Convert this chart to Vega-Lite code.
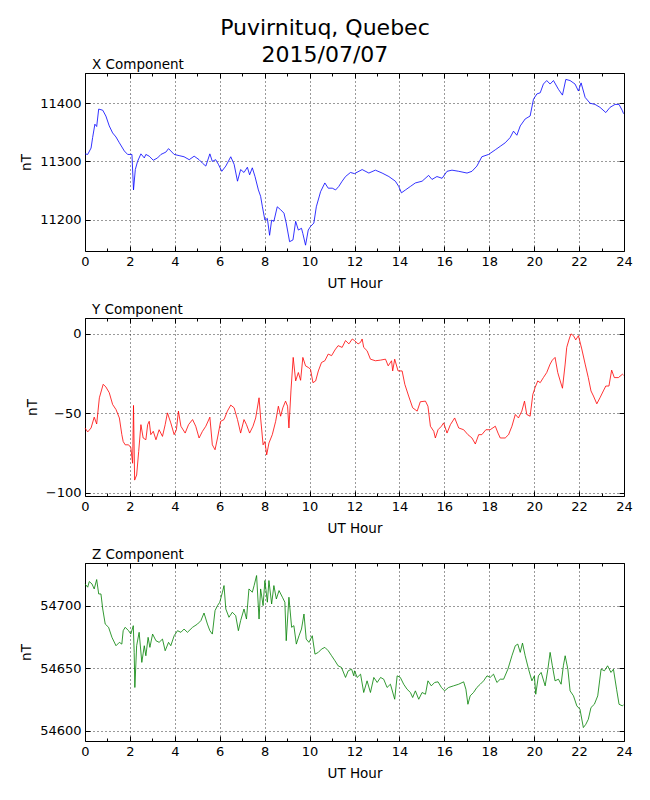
{
  "$schema": "https://vega.github.io/schema/vega-lite/v6.json",
  "padding": {"left": 19, "top": 16, "right": 20, "bottom": 5},
  "title": {"text": ["Puvirnituq, Quebec", "2015/07/07"], "fontSize": 22, "lineHeight": 27, "anchor": "middle", "offset": -9, "dx": -1, "font": "DejaVu Sans", "fontWeight": "normal", "color": "black", "frame": "bounds"},
  "spacing": 12,
  "datasets": {
    "xc": [
      {"h":0,"v":11313},{"h":0.12,"v":11312},{"h":0.27,"v":11323},{"h":0.34,"v":11341},{"h":0.44,"v":11364},{"h":0.52,"v":11360},{"h":0.61,"v":11390},{"h":0.79,"v":11388},{"h":0.93,"v":11378},{"h":1.08,"v":11361},{"h":1.23,"v":11349},{"h":1.38,"v":11342},{"h":1.53,"v":11332},{"h":1.75,"v":11318},{"h":1.9,"v":11312},{"h":2.09,"v":11312},{"h":2.16,"v":11251},{"h":2.24,"v":11286},{"h":2.34,"v":11300},{"h":2.49,"v":11313},{"h":2.64,"v":11306},{"h":2.71,"v":11312},{"h":2.86,"v":11309},{"h":3.04,"v":11302},{"h":3.23,"v":11306},{"h":3.38,"v":11312},{"h":3.6,"v":11316},{"h":3.72,"v":11322},{"h":3.82,"v":11318},{"h":3.97,"v":11312},{"h":4.19,"v":11310},{"h":4.41,"v":11308},{"h":4.64,"v":11303},{"h":4.86,"v":11309},{"h":5.08,"v":11303},{"h":5.23,"v":11297},{"h":5.38,"v":11292},{"h":5.56,"v":11313},{"h":5.67,"v":11300},{"h":5.82,"v":11303},{"h":5.94,"v":11295},{"h":6.09,"v":11283},{"h":6.27,"v":11292},{"h":6.49,"v":11308},{"h":6.64,"v":11295},{"h":6.79,"v":11266},{"h":6.93,"v":11286},{"h":7.08,"v":11281},{"h":7.23,"v":11290},{"h":7.33,"v":11277},{"h":7.45,"v":11289},{"h":7.57,"v":11274},{"h":7.72,"v":11251},{"h":7.82,"v":11240},{"h":7.9,"v":11222},{"h":8.01,"v":11199},{"h":8.12,"v":11202},{"h":8.22,"v":11173},{"h":8.31,"v":11199},{"h":8.41,"v":11197},{"h":8.56,"v":11222},{"h":8.71,"v":11217},{"h":8.86,"v":11211},{"h":8.96,"v":11194},{"h":9.11,"v":11162},{"h":9.26,"v":11165},{"h":9.38,"v":11197},{"h":9.5,"v":11182},{"h":9.64,"v":11185},{"h":9.7,"v":11176},{"h":9.82,"v":11156},{"h":9.94,"v":11182},{"h":10.04,"v":11188},{"h":10.19,"v":11194},{"h":10.3,"v":11222},{"h":10.49,"v":11248},{"h":10.68,"v":11263},{"h":10.83,"v":11254},{"h":11.01,"v":11254},{"h":11.16,"v":11251},{"h":11.3,"v":11257},{"h":11.45,"v":11266},{"h":11.6,"v":11274},{"h":11.82,"v":11281},{"h":12.0,"v":11279},{"h":12.34,"v":11286},{"h":12.64,"v":11280},{"h":12.93,"v":11285},{"h":13.23,"v":11280},{"h":13.53,"v":11274},{"h":13.82,"v":11266},{"h":13.97,"v":11257},{"h":14.09,"v":11246},{"h":14.27,"v":11251},{"h":14.49,"v":11257},{"h":14.71,"v":11263},{"h":15.01,"v":11266},{"h":15.3,"v":11276},{"h":15.45,"v":11269},{"h":15.67,"v":11274},{"h":15.9,"v":11271},{"h":16.12,"v":11283},{"h":16.34,"v":11285},{"h":16.64,"v":11283},{"h":17.01,"v":11280},{"h":17.23,"v":11283},{"h":17.45,"v":11292},{"h":17.67,"v":11308},{"h":17.97,"v":11312},{"h":18.27,"v":11320},{"h":18.49,"v":11326},{"h":18.71,"v":11332},{"h":18.93,"v":11341},{"h":19.08,"v":11352},{"h":19.23,"v":11345},{"h":19.38,"v":11361},{"h":19.6,"v":11373},{"h":19.82,"v":11378},{"h":19.97,"v":11407},{"h":20.12,"v":11416},{"h":20.27,"v":11418},{"h":20.41,"v":11433},{"h":20.56,"v":11439},{"h":20.71,"v":11433},{"h":20.86,"v":11439},{"h":21.08,"v":11424},{"h":21.26,"v":11414},{"h":21.41,"v":11441},{"h":21.6,"v":11439},{"h":21.82,"v":11433},{"h":21.97,"v":11421},{"h":22.09,"v":11435},{"h":22.27,"v":11410},{"h":22.49,"v":11400},{"h":22.71,"v":11398},{"h":22.93,"v":11393},{"h":23.19,"v":11384},{"h":23.38,"v":11393},{"h":23.6,"v":11398},{"h":23.78,"v":11398},{"h":23.93,"v":11387},{"h":23.98,"v":11382}
    ],
    "yc": [
      {"h":0,"v":-59.2},{"h":0.12,"v":-61.7},{"h":0.27,"v":-59.2},{"h":0.41,"v":-52.4},{"h":0.52,"v":-56.7},{"h":0.64,"v":-40.2},{"h":0.81,"v":-31.7},{"h":0.93,"v":-33.4},{"h":1.08,"v":-37},{"h":1.23,"v":-44.4},{"h":1.38,"v":-47.6},{"h":1.53,"v":-52.9},{"h":1.64,"v":-63.4},{"h":1.7,"v":-67.7},{"h":1.79,"v":-69.8},{"h":1.94,"v":-69.8},{"h":2.04,"v":-71.5},{"h":2.12,"v":-81.4},{"h":2.16,"v":-45},{"h":2.21,"v":-92},{"h":2.3,"v":-88.8},{"h":2.39,"v":-74},{"h":2.49,"v":-57.1},{"h":2.59,"v":-65.5},{"h":2.71,"v":-66.6},{"h":2.79,"v":-57.1},{"h":2.86,"v":-55},{"h":2.93,"v":-63.4},{"h":3.04,"v":-61.3},{"h":3.16,"v":-66.6},{"h":3.3,"v":-60.3},{"h":3.45,"v":-64.5},{"h":3.57,"v":-57.1},{"h":3.67,"v":-49.7},{"h":3.82,"v":-56},{"h":3.97,"v":-63.4},{"h":4.07,"v":-60.3},{"h":4.16,"v":-48.6},{"h":4.27,"v":-58.1},{"h":4.46,"v":-62.4},{"h":4.61,"v":-57.1},{"h":4.79,"v":-53.9},{"h":4.93,"v":-58.1},{"h":5.08,"v":-65.5},{"h":5.23,"v":-61.3},{"h":5.38,"v":-58.1},{"h":5.56,"v":-52.4},{"h":5.67,"v":-69.8},{"h":5.79,"v":-72.9},{"h":5.9,"v":-65.5},{"h":6.04,"v":-55},{"h":6.19,"v":-53.9},{"h":6.34,"v":-48.6},{"h":6.49,"v":-44.8},{"h":6.64,"v":-46.5},{"h":6.79,"v":-53.9},{"h":6.93,"v":-62.4},{"h":7.08,"v":-53.9},{"h":7.19,"v":-57.1},{"h":7.33,"v":-62.4},{"h":7.48,"v":-58.1},{"h":7.6,"v":-52.9},{"h":7.75,"v":-40.2},{"h":7.82,"v":-52.9},{"h":7.93,"v":-69.8},{"h":8.01,"v":-67.7},{"h":8.09,"v":-76.1},{"h":8.19,"v":-68.7},{"h":8.34,"v":-63.4},{"h":8.49,"v":-55},{"h":8.61,"v":-45.5},{"h":8.71,"v":-51.8},{"h":8.81,"v":-46.5},{"h":8.93,"v":-42.3},{"h":9.02,"v":-45.5},{"h":9.08,"v":-59.2},{"h":9.17,"v":-35.9},{"h":9.27,"v":-14.8},{"h":9.38,"v":-29.6},{"h":9.5,"v":-24.3},{"h":9.6,"v":-29.2},{"h":9.7,"v":-14.8},{"h":9.82,"v":-20.1},{"h":9.94,"v":-21.1},{"h":10.04,"v":-22.2},{"h":10.15,"v":-30.7},{"h":10.27,"v":-29.6},{"h":10.39,"v":-23.3},{"h":10.53,"v":-18},{"h":10.68,"v":-16.9},{"h":10.83,"v":-12.7},{"h":10.98,"v":-13.7},{"h":11.13,"v":-10.1},{"h":11.27,"v":-7.4},{"h":11.45,"v":-8.5},{"h":11.6,"v":-4.2},{"h":11.75,"v":-6.3},{"h":11.9,"v":-3.2},{"h":12.0,"v":-4.2},{"h":12.16,"v":-6.3},{"h":12.27,"v":-5.3},{"h":12.34,"v":-3.2},{"h":12.41,"v":-8.5},{"h":12.56,"v":-10.6},{"h":12.71,"v":-15.9},{"h":12.93,"v":-16.9},{"h":13.16,"v":-16.5},{"h":13.38,"v":-15.9},{"h":13.5,"v":-20.1},{"h":13.65,"v":-16.9},{"h":13.7,"v":-23.3},{"h":13.79,"v":-15.9},{"h":13.94,"v":-23.3},{"h":14.12,"v":-23.3},{"h":14.24,"v":-31.7},{"h":14.41,"v":-39.1},{"h":14.59,"v":-46.5},{"h":14.79,"v":-48.6},{"h":14.93,"v":-42.7},{"h":15.16,"v":-42.3},{"h":15.27,"v":-45.5},{"h":15.38,"v":-58.1},{"h":15.53,"v":-61.3},{"h":15.6,"v":-65.5},{"h":15.72,"v":-60.3},{"h":15.87,"v":-58.1},{"h":15.97,"v":-56},{"h":16.12,"v":-62.4},{"h":16.27,"v":-57.1},{"h":16.46,"v":-52.9},{"h":16.64,"v":-59.2},{"h":16.86,"v":-60.3},{"h":17.05,"v":-63.4},{"h":17.23,"v":-65.5},{"h":17.38,"v":-69.3},{"h":17.53,"v":-63.4},{"h":17.67,"v":-63.4},{"h":17.85,"v":-60.3},{"h":18.04,"v":-60.3},{"h":18.27,"v":-58.1},{"h":18.39,"v":-62.4},{"h":18.49,"v":-65.5},{"h":18.71,"v":-65.5},{"h":18.86,"v":-63.4},{"h":19.01,"v":-58.1},{"h":19.16,"v":-50.7},{"h":19.3,"v":-52.9},{"h":19.45,"v":-48.6},{"h":19.57,"v":-42.3},{"h":19.67,"v":-50.7},{"h":19.82,"v":-51.8},{"h":19.94,"v":-38.1},{"h":20.04,"v":-33.8},{"h":20.16,"v":-29.6},{"h":20.27,"v":-30.7},{"h":20.41,"v":-27.5},{"h":20.56,"v":-24.3},{"h":20.71,"v":-19},{"h":20.81,"v":-16.5},{"h":20.93,"v":-14.8},{"h":21.05,"v":-24.3},{"h":21.16,"v":-29.6},{"h":21.26,"v":-34.2},{"h":21.38,"v":-19},{"h":21.45,"v":-8.5},{"h":21.56,"v":-3.2},{"h":21.64,"v":0},{"h":21.75,"v":-1.1},{"h":21.85,"v":-3.8},{"h":21.97,"v":-1.1},{"h":22.12,"v":-9.5},{"h":22.27,"v":-19},{"h":22.41,"v":-27.5},{"h":22.53,"v":-35.9},{"h":22.64,"v":-39.1},{"h":22.79,"v":-44},{"h":22.93,"v":-40.2},{"h":23.08,"v":-35.9},{"h":23.19,"v":-32.8},{"h":23.33,"v":-32.8},{"h":23.45,"v":-22.8},{"h":23.57,"v":-27.5},{"h":23.75,"v":-27.5},{"h":23.93,"v":-25.4},{"h":23.98,"v":-26}
    ],
    "zc": [
      {"h":0,"v":54717.3},{"h":0.12,"v":54714.7},{"h":0.19,"v":54719.2},{"h":0.31,"v":54717.3},{"h":0.41,"v":54713.3},{"h":0.52,"v":54720.8},{"h":0.61,"v":54709.3},{"h":0.71,"v":54709.3},{"h":0.79,"v":54697.3},{"h":0.9,"v":54685.3},{"h":1.05,"v":54682.7},{"h":1.2,"v":54674.7},{"h":1.38,"v":54668},{"h":1.53,"v":54670.7},{"h":1.64,"v":54669.3},{"h":1.7,"v":54680},{"h":1.79,"v":54682.7},{"h":1.94,"v":54680},{"h":2.04,"v":54677.3},{"h":2.15,"v":54684},{"h":2.19,"v":54662.7},{"h":2.22,"v":54634.7},{"h":2.3,"v":54668},{"h":2.41,"v":54678.7},{"h":2.53,"v":54654.7},{"h":2.64,"v":54668},{"h":2.71,"v":54660},{"h":2.81,"v":54674.7},{"h":2.89,"v":54666.7},{"h":3.01,"v":54677.3},{"h":3.16,"v":54672},{"h":3.3,"v":54670.7},{"h":3.45,"v":54673.3},{"h":3.57,"v":54664},{"h":3.72,"v":54670.7},{"h":3.82,"v":54668},{"h":3.97,"v":54676},{"h":4.12,"v":54680},{"h":4.27,"v":54678.7},{"h":4.41,"v":54681.3},{"h":4.56,"v":54678.7},{"h":4.79,"v":54682.7},{"h":5.01,"v":54685.3},{"h":5.16,"v":54688},{"h":5.3,"v":54694.1},{"h":5.45,"v":54685.3},{"h":5.56,"v":54680},{"h":5.67,"v":54677.3},{"h":5.79,"v":54696},{"h":5.9,"v":54700},{"h":6.0,"v":54702.7},{"h":6.12,"v":54710.7},{"h":6.19,"v":54716},{"h":6.27,"v":54697.3},{"h":6.41,"v":54690.7},{"h":6.56,"v":54694.7},{"h":6.71,"v":54692},{"h":6.83,"v":54680},{"h":6.93,"v":54688},{"h":7.08,"v":54697.3},{"h":7.19,"v":54689.3},{"h":7.3,"v":54713.3},{"h":7.45,"v":54710.7},{"h":7.53,"v":54716},{"h":7.64,"v":54724},{"h":7.75,"v":54689.3},{"h":7.82,"v":54713.3},{"h":7.93,"v":54700},{"h":8.01,"v":54720},{"h":8.12,"v":54702.7},{"h":8.19,"v":54720},{"h":8.31,"v":54701.3},{"h":8.41,"v":54716},{"h":8.52,"v":54705.3},{"h":8.64,"v":54712},{"h":8.79,"v":54706.7},{"h":8.9,"v":54702.7},{"h":8.96,"v":54672},{"h":9.08,"v":54706.7},{"h":9.2,"v":54682.7},{"h":9.3,"v":54684},{"h":9.41,"v":54669.3},{"h":9.53,"v":54676},{"h":9.64,"v":54681.3},{"h":9.75,"v":54693.3},{"h":9.85,"v":54673.3},{"h":9.97,"v":54670.7},{"h":10.12,"v":54676},{"h":10.24,"v":54661.3},{"h":10.39,"v":54662.7},{"h":10.53,"v":54665.3},{"h":10.68,"v":54666.7},{"h":10.83,"v":54664},{"h":10.98,"v":54660},{"h":11.13,"v":54656},{"h":11.27,"v":54652},{"h":11.42,"v":54650.7},{"h":11.6,"v":54642.7},{"h":11.72,"v":54648},{"h":11.87,"v":54649.3},{"h":11.97,"v":54644},{"h":12.0,"v":54648},{"h":12.12,"v":54642.7},{"h":12.27,"v":54645.3},{"h":12.41,"v":54630.7},{"h":12.56,"v":54640},{"h":12.71,"v":54630.7},{"h":12.86,"v":54642.7},{"h":13.01,"v":54638.7},{"h":13.16,"v":54642.7},{"h":13.3,"v":54641.3},{"h":13.45,"v":54634.7},{"h":13.6,"v":54637.3},{"h":13.79,"v":54625.3},{"h":13.9,"v":54644},{"h":14.04,"v":54642.7},{"h":14.19,"v":54637.3},{"h":14.34,"v":54633.3},{"h":14.49,"v":54630.7},{"h":14.59,"v":54626.7},{"h":14.71,"v":54632},{"h":14.86,"v":54625.3},{"h":15.01,"v":54630.7},{"h":15.16,"v":54629.3},{"h":15.27,"v":54640},{"h":15.42,"v":54636},{"h":15.57,"v":54638.7},{"h":15.72,"v":54639.2},{"h":15.87,"v":54634.7},{"h":16.01,"v":54632},{"h":16.19,"v":54634.7},{"h":16.41,"v":54636},{"h":16.64,"v":54637.3},{"h":16.86,"v":54639.2},{"h":16.96,"v":54633.3},{"h":17.05,"v":54621.3},{"h":17.15,"v":54628},{"h":17.3,"v":54630.7},{"h":17.45,"v":54634.7},{"h":17.6,"v":54637.3},{"h":17.75,"v":54640},{"h":17.9,"v":54644},{"h":18.04,"v":54642.7},{"h":18.19,"v":54645.3},{"h":18.34,"v":54638.7},{"h":18.49,"v":54641.3},{"h":18.64,"v":54641.3},{"h":18.83,"v":54649.3},{"h":19.01,"v":54660},{"h":19.16,"v":54668},{"h":19.27,"v":54669.3},{"h":19.38,"v":54662.7},{"h":19.48,"v":54670.1},{"h":19.6,"v":54660},{"h":19.75,"v":54649.3},{"h":19.9,"v":54640},{"h":20.01,"v":54644},{"h":20.07,"v":54629.3},{"h":20.19,"v":54644},{"h":20.31,"v":54646.7},{"h":20.49,"v":54636},{"h":20.61,"v":54649.3},{"h":20.71,"v":54662.7},{"h":20.81,"v":54652},{"h":20.93,"v":54640},{"h":21.08,"v":54641.3},{"h":21.2,"v":54637.3},{"h":21.3,"v":54652},{"h":21.38,"v":54660},{"h":21.5,"v":54649.3},{"h":21.6,"v":54632},{"h":21.75,"v":54628},{"h":21.9,"v":54620},{"h":22.04,"v":54617.3},{"h":22.19,"v":54602.7},{"h":22.3,"v":54605.3},{"h":22.41,"v":54609.3},{"h":22.53,"v":54618.7},{"h":22.68,"v":54621.3},{"h":22.83,"v":54628},{"h":22.98,"v":54649.3},{"h":23.13,"v":54648},{"h":23.27,"v":54652},{"h":23.42,"v":54646.7},{"h":23.53,"v":54649.3},{"h":23.67,"v":54633.3},{"h":23.78,"v":54621.3},{"h":23.93,"v":54620},{"h":23.98,"v":54621}
    ]
  },
  "vconcat": [
    {
      "title": {"text": "X Component"},
      "width": 539, "height": 178,
      "data": {"name": "xc"},
      "layer": [
        {
          "mark": {"type": "line", "color": "#0000ff", "strokeWidth": 0.8},
          "encoding": {
            "x": {"field": "h", "type": "quantitative", "scale": {"domain": [0, 24], "nice": false},
              "axis": {"title": "UT Hour", "values": [0,1,2,3,4,5,6,7,8,9,10,11,12,13,14,15,16,17,18,19,20,21,22,23,24], "labelExpr": "datum.value % 2 == 0 ? datum.label : ''",
                "tickSize": {"condition": {"test": "datum.value % 2 == 0", "value": -5}, "value": -3},
                "gridOpacity": {"condition": {"test": "datum.value % 2 == 0", "value": 1}, "value": 0}}},
            "y": {"field": "v", "type": "quantitative", "scale": {"domain": [11146, 11452], "nice": false, "zero": false},
              "axis": {"title": "nT", "values": [11200, 11300, 11400], "format": "d", "tickSize": -5}}
          }
        },
        {
          "mark": {"type": "line", "strokeOpacity": 0},
          "encoding": {
            "x": {"field": "h", "type": "quantitative",
              "axis": {"orient": "top", "title": null, "labels": false, "grid": false, "values": [0,1,2,3,4,5,6,7,8,9,10,11,12,13,14,15,16,17,18,19,20,21,22,23,24],
                "tickSize": {"condition": {"test": "datum.value % 2 == 0", "value": -5}, "value": -3}}},
            "y": {"field": "v", "type": "quantitative",
              "axis": {"orient": "right", "title": null, "labels": false, "grid": false, "values": [11200, 11300, 11400], "tickSize": -5}}
          }
        }
      ],
      "resolve": {"axis": {"x": "independent", "y": "independent"}}
    },
    {
      "title": {"text": "Y Component"},
      "width": 539, "height": 178,
      "data": {"name": "yc"},
      "layer": [
        {
          "mark": {"type": "line", "color": "#ff0000", "strokeWidth": 0.8},
          "encoding": {
            "x": {"field": "h", "type": "quantitative", "scale": {"domain": [0, 24], "nice": false},
              "axis": {"title": "UT Hour", "values": [0,1,2,3,4,5,6,7,8,9,10,11,12,13,14,15,16,17,18,19,20,21,22,23,24], "labelExpr": "datum.value % 2 == 0 ? datum.label : ''",
                "tickSize": {"condition": {"test": "datum.value % 2 == 0", "value": -5}, "value": -3},
                "gridOpacity": {"condition": {"test": "datum.value % 2 == 0", "value": 1}, "value": 0}}},
            "y": {"field": "v", "type": "quantitative", "scale": {"domain": [-102, 10], "nice": false, "zero": false},
              "axis": {"title": "nT", "values": [-100, -50, 0], "format": "d", "tickSize": -5}}
          }
        },
        {
          "mark": {"type": "line", "strokeOpacity": 0},
          "encoding": {
            "x": {"field": "h", "type": "quantitative",
              "axis": {"orient": "top", "title": null, "labels": false, "grid": false, "values": [0,1,2,3,4,5,6,7,8,9,10,11,12,13,14,15,16,17,18,19,20,21,22,23,24],
                "tickSize": {"condition": {"test": "datum.value % 2 == 0", "value": -5}, "value": -3}}},
            "y": {"field": "v", "type": "quantitative",
              "axis": {"orient": "right", "title": null, "labels": false, "grid": false, "values": [-100, -50, 0], "tickSize": -5}}
          }
        }
      ],
      "resolve": {"axis": {"x": "independent", "y": "independent"}}
    },
    {
      "title": {"text": "Z Component"},
      "width": 539, "height": 178,
      "data": {"name": "zc"},
      "layer": [
        {
          "mark": {"type": "line", "color": "#008000", "strokeWidth": 0.8},
          "encoding": {
            "x": {"field": "h", "type": "quantitative", "scale": {"domain": [0, 24], "nice": false},
              "axis": {"title": "UT Hour", "values": [0,1,2,3,4,5,6,7,8,9,10,11,12,13,14,15,16,17,18,19,20,21,22,23,24], "labelExpr": "datum.value % 2 == 0 ? datum.label : ''",
                "tickSize": {"condition": {"test": "datum.value % 2 == 0", "value": -5}, "value": -3},
                "gridOpacity": {"condition": {"test": "datum.value % 2 == 0", "value": 1}, "value": 0}}},
            "y": {"field": "v", "type": "quantitative", "scale": {"domain": [54592, 54734], "nice": false, "zero": false},
              "axis": {"title": "nT", "values": [54600, 54650, 54700], "format": "d", "tickSize": -5}}
          }
        },
        {
          "mark": {"type": "line", "strokeOpacity": 0},
          "encoding": {
            "x": {"field": "h", "type": "quantitative",
              "axis": {"orient": "top", "title": null, "labels": false, "grid": false, "values": [0,1,2,3,4,5,6,7,8,9,10,11,12,13,14,15,16,17,18,19,20,21,22,23,24],
                "tickSize": {"condition": {"test": "datum.value % 2 == 0", "value": -5}, "value": -3}}},
            "y": {"field": "v", "type": "quantitative",
              "axis": {"orient": "right", "title": null, "labels": false, "grid": false, "values": [54600, 54650, 54700], "tickSize": -5}}
          }
        }
      ],
      "resolve": {"axis": {"x": "independent", "y": "independent"}}
    }
  ],
  "config": {
    "view": {"stroke": "black", "strokeWidth": 1},
    "title": {"font": "DejaVu Sans", "fontSize": 13.5, "fontWeight": "normal", "color": "black", "anchor": "start", "frame": "group", "dx": 7, "offset": 1},
    "axis": {
      "labelFont": "DejaVu Sans", "labelFontSize": 13, "labelColor": "black", "labelFlush": false, "labelOverlap": false,
      "titleFont": "DejaVu Sans", "titleFontSize": 13.5, "titleFontWeight": "normal", "titleColor": "black",
      "tickColor": "black", "tickWidth": 1, "domain": false,
      "gridColor": "black", "gridDash": [1, 3], "gridWidth": 0.8,
      "labelPadding": 9, "titlePadding": 6
    }
  }
}
